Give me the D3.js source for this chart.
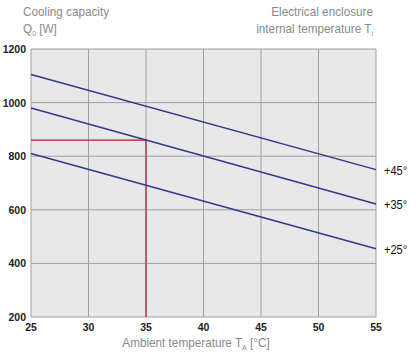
<!DOCTYPE html>
<html>
<head>
<meta charset="utf-8">
<script src="https://cdn.jsdelivr.net/npm/d3@7"></script>
<style>
body { margin: 0; background: #fff; }
svg text { font-family: "Liberation Sans Narrow", "Liberation Sans", Arial, sans-serif; }
</style>
</head>
<body>
<svg id="chart" width="416" height="361"></svg>
<script>
// chart data
const xTicks = [25, 30, 35, 40, 45, 50, 55];
const yTicks = [200, 400, 600, 800, 1000, 1200];
const seriesNames = ["+45°", "+35°", "+25°"];
const seriesStart = [1105, 980, 810];   // at 25 °C
const seriesEnd = [750, 622, 455];      // at 55 °C
const markX = 35, markY = 860;

const svg = d3.select("#chart");
const plotL = 31, plotR = 376, plotT = 49, plotB = 317;

const x = d3.scaleLinear().domain([25, 55]).range([plotL, plotR]);
const y = d3.scaleLinear().domain([200, 1200]).range([plotB, plotT]);

svg.append("rect")
    .attr("x", plotL).attr("y", plotT)
    .attr("width", plotR - plotL).attr("height", plotB - plotT)
    .attr("fill", "#e8e8e8");

// grid
svg.append("g").selectAll("line").data(xTicks).join("line")
    .attr("x1", d => x(d)).attr("x2", d => x(d))
    .attr("y1", plotT).attr("y2", plotB)
    .attr("stroke", "#a0a0a0").attr("stroke-width", 1);
svg.append("g").selectAll("line").data(yTicks).join("line")
    .attr("x1", plotL).attr("x2", plotR)
    .attr("y1", d => y(d)).attr("y2", d => y(d))
    .attr("stroke", "#a0a0a0").attr("stroke-width", 1);

// red guide
svg.append("path")
    .attr("d", d3.line()([[x(markX), y(200)], [x(markX), y(markY)], [x(25), y(markY)]]))
    .attr("fill", "none").attr("stroke", "#c8102e").attr("stroke-width", 1.2);

// narrow text helper (condensed look)
function narrow(px, py, anchor, size, color, sx) {
    return svg.append("text")
        .attr("transform", `translate(${px},${py}) scale(${sx},1)`)
        .attr("text-anchor", anchor)
        .attr("font-size", size).attr("fill", color);
}

// series lines
const line = d3.line().x(d => x(d[0])).y(d => y(d[1]));
seriesNames.forEach((name, i) => {
    const pts = [[25, seriesStart[i]], [55, seriesEnd[i]]];
    svg.append("path").attr("d", line(pts))
        .attr("fill", "none").attr("stroke", "#2f3a8a").attr("stroke-width", 1.5);
    narrow(plotR + 8, y(seriesEnd[i]) + 5, "start", 13, "#111", 0.85).text(name);
});

// tick labels
svg.append("g").selectAll("text").data(yTicks).join("text")
    .attr("x", 26).attr("y", d => y(d) + 4)
    .attr("text-anchor", "end")
    .style("font-family", "'Liberation Sans', Arial, sans-serif")
    .attr("font-size", 10.5).attr("font-weight", "bold").attr("fill", "#222")
    .text(d => d);
svg.append("g").selectAll("text").data(xTicks).join("text")
    .attr("x", d => x(d)).attr("y", plotB + 14)
    .attr("text-anchor", "middle")
    .style("font-family", "'Liberation Sans', Arial, sans-serif")
    .attr("font-size", 10.5).attr("font-weight", "bold").attr("fill", "#222")
    .text(d => d);

// titles
const grey = "#8a8a8a";
const sx = 0.87;
narrow(23, 16, "start", 13.5, grey, sx).text("Cooling capacity");
const q = narrow(23, 33, "start", 13.5, grey, sx);
q.append("tspan").text("Q");
q.append("tspan").attr("font-size", 8).attr("dy", 3).text("0");
q.append("tspan").attr("dy", -3).text(" [W]");

narrow(373, 16, "end", 13.5, grey, sx).text("Electrical enclosure");
const ti = narrow(373, 33, "end", 13.5, grey, sx);
ti.append("tspan").text("internal temperature T");
ti.append("tspan").attr("font-size", 8).attr("dy", 3).text("i");

const xt = narrow(196, 347, "middle", 13.5, grey, sx);
xt.append("tspan").text("Ambient temperature T");
xt.append("tspan").attr("font-size", 8).attr("dy", 3).text("A");
xt.append("tspan").attr("dy", -3).text(" [°C]");
</script>
</body>
</html>
